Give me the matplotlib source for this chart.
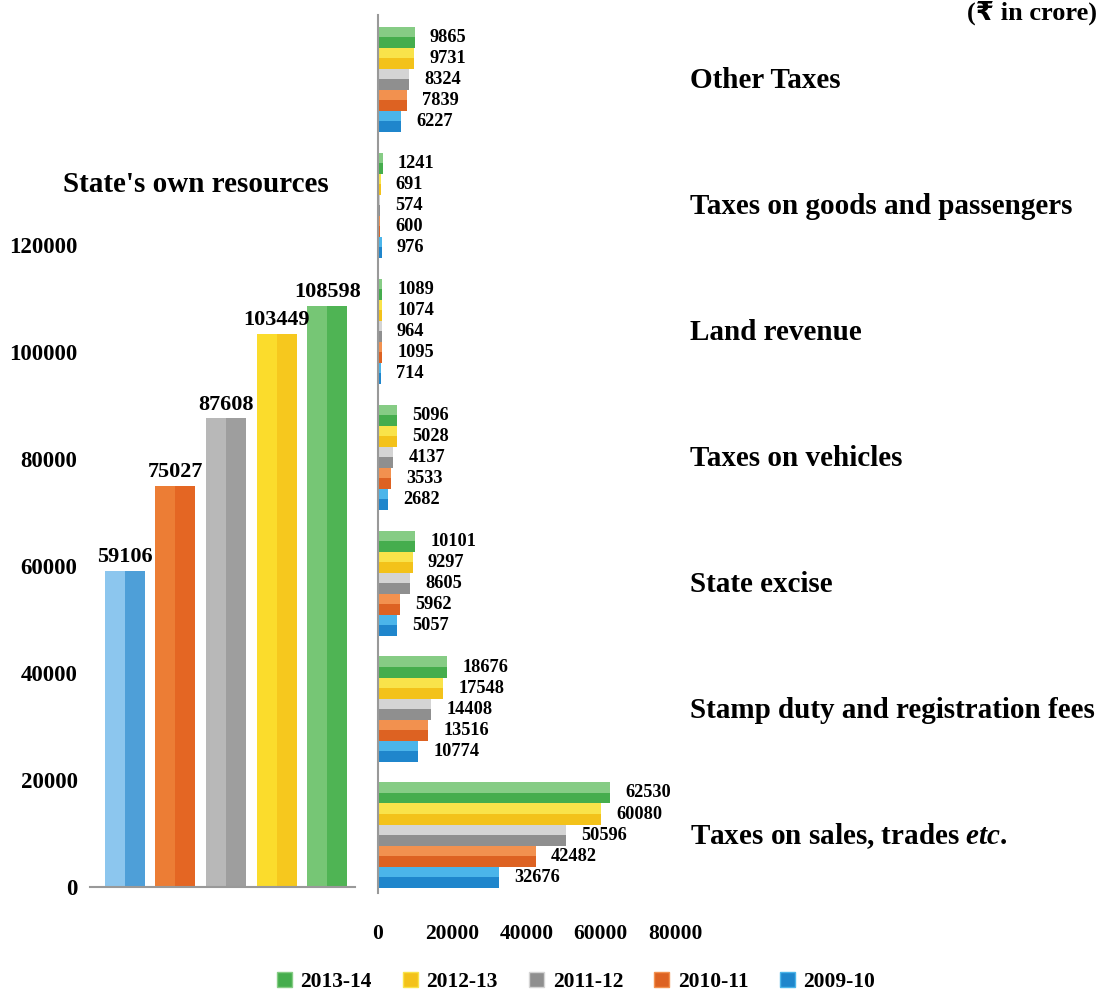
import numpy as np
import matplotlib.pyplot as plt
from matplotlib.patches import Patch

plt.rcParams['font.family'] = ['Liberation Serif', 'DejaVu Sans']
plt.rcParams['font.weight'] = 'bold'
plt.rcParams['mathtext.fontset'] = 'custom'
plt.rcParams['mathtext.rm'] = 'Liberation Serif:bold'
plt.rcParams['mathtext.it'] = 'Liberation Serif:italic:bold'

# data
years = ['2009-10', '2010-11', '2011-12', '2012-13', '2013-14']
totals = [59106, 75027, 87608, 103449, 108598]
categories = ['Taxes on sales, trades $\\mathit{etc.}$', 'Stamp duty and registration fees',
              'State excise', 'Taxes on vehicles', 'Land revenue',
              'Taxes on goods and passengers', 'Other Taxes']
v2009 = [32676, 10774, 5057, 2682, 714, 976, 6227]
v2010 = [42482, 13516, 5962, 3533, 1095, 600, 7839]
v2011 = [50596, 14408, 8605, 4137, 964, 574, 8324]
v2012 = [60080, 17548, 9297, 5028, 1074, 691, 9731]
v2013 = [62530, 18676, 10101, 5096, 1089, 1241, 9865]
series = [v2009, v2010, v2011, v2012, v2013]

dark = ['#1f86cc', '#dd6222', '#8f8f8f', '#f3c21a', '#45ad4d']
light = ['#4bb5ea', '#f2914f', '#d4d4d4', '#f9e34a', '#86cc85']
left_dark = ['#4e9fd8', '#e46623', '#9e9e9e', '#f6c81e', '#4fb454']
left_light = ['#8cc6ee', '#ec7d35', '#b8b8b8', '#fbdc2c', '#76c675']

fig = plt.figure(figsize=(10.99, 9.91), dpi=100)

# left: state's own resources
ax1 = fig.add_axes([90/1099, 104/991, 265/1099, 642/991])
x = np.arange(len(years))
w = 0.79
ax1.bar(x, totals, width=w, color=left_dark, clip_on=False)
ax1.bar(x - w/4, totals, width=w/2, color=left_light, clip_on=False)
for xi, t in zip(x, totals):
    ax1.text(xi, t + 700, str(t), ha='center', va='bottom', fontsize=16)
ax1.set_xlim(-0.69, 4.55)
ax1.set_ylim(0, 120000)
ax1.set_yticks([0, 20000, 40000, 60000, 80000, 100000, 120000])
ax1.tick_params(axis='y', length=0, pad=9, labelsize=16.5)
ax1.set_xticks([])
for s in ['top', 'right', 'left']:
    ax1.spines[s].set_visible(False)
ax1.spines['bottom'].set_color('#999999')
ax1.spines['bottom'].set_linewidth(1.5)
fig.text(196/1099, 1 - 185/991, "State's own resources", ha='center', va='center', fontsize=21)

# right: components
ax2 = fig.add_axes([378/1099, 98/991, 297/1099, 878/991])
h = 0.167
y = np.arange(len(categories))
for i, vals in enumerate(series):
    yy = y + (i - 2) * h
    ax2.barh(yy, vals, height=h, color=dark[i])
    ax2.barh(yy + h/4, vals, height=h/2, color=light[i])
    for yv, v in zip(yy, vals):
        ax2.annotate(str(v), (v, yv), xytext=(11, 0), textcoords='offset points',
                     ha='left', va='center', fontsize=13.2)
for yi, c in zip(y, categories):
    ax2.text(84000, yi - 0.01, c, ha='left', va='center', fontsize=21, clip_on=False)
ax2.set_xlim(0, 80000)
ax2.set_ylim(-0.46, 6.51)
ax2.set_xticks([0, 20000, 40000, 60000, 80000])
ax2.tick_params(axis='x', length=0, pad=22, labelsize=15.5)
ax2.set_yticks([])
for s in ['top', 'right', 'bottom']:
    ax2.spines[s].set_visible(False)
ax2.spines['left'].set_color('#999999')
ax2.spines['left'].set_linewidth(1.5)

fig.text(1097/1099, 1 - 1/991, '(\u20b9 in crore)', ha='right', va='top', fontsize=19)

handles = [Patch(facecolor=dark[i], edgecolor=light[i]) for i in range(4, -1, -1)]
labels = [years[i] for i in range(4, -1, -1)]
fig.legend(handles, labels, loc='center', bbox_to_anchor=(576/1099, 1 - 982/991), ncol=5,
           frameon=False, fontsize=15.5, handlelength=0.7, handleheight=0.7,
           handletextpad=0.4, columnspacing=1.45)

fig.savefig('out.png', dpi=100)
